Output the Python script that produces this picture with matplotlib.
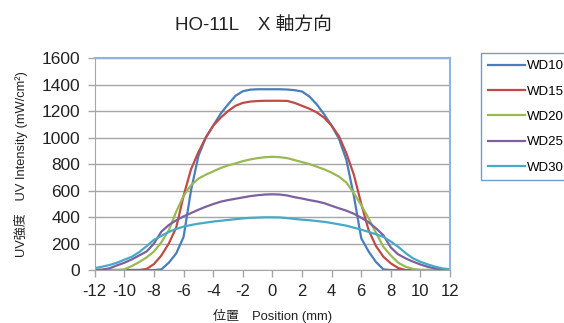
import numpy as np
import matplotlib
matplotlib.use("Agg")
import matplotlib.pyplot as plt

plt.rcParams['font.family'] = ['Liberation Sans', 'Noto Sans CJK JP', 'DejaVu Sans']
plt.rcParams['axes.unicode_minus'] = False

# 位置 (mm)
position = np.arange(-12, 12.5, 0.5)

wd10 = [0, 0, 0, 0, 0, 0, 0, 0, 0,
        5, 55, 125, 250, 600, 860, 1000, 1090, 1180, 1250, 1315, 1350, 1362, 1365, 1365,
        1365, 1365, 1363, 1358, 1348, 1310, 1250, 1175, 1090, 990, 830, 560, 240, 140, 60, 5,
        0, 0, 0, 0, 0, 0, 0, 0, 0]
wd15 = [0, 0, 0, 0, 0, 0, 0,
        8, 45, 110, 200, 320, 560, 760, 890, 1000, 1090, 1150, 1200, 1240, 1262, 1272, 1276,
        1278, 1278, 1278, 1277, 1262, 1240, 1218, 1190, 1150, 1090, 1010, 880, 720, 500, 300,
        180, 100, 50, 15,
        0, 0, 0, 0, 0, 0, 0]
wd20 = [0, 0, 0, 0,
        5, 30, 60, 95, 140, 210, 300, 440, 560, 640, 690, 720, 745, 770, 790, 805, 822, 835,
        845, 852, 855, 852, 845, 830, 815, 800, 780, 760, 735, 705, 660, 580, 490, 390, 280,
        175, 110, 55, 25, 8,
        0, 0, 0, 0, 0]
wd25 = [0, 3, 13, 35, 55, 80, 110, 140, 200, 290, 340, 375, 405, 430, 455, 478, 498, 516,
        528, 538, 548, 558, 565, 570, 572,
        570, 563, 550, 540, 528, 518, 505, 485, 466, 448, 425, 395, 360, 315, 262, 170, 118,
        88, 63, 42, 24, 12, 4, 0]
wd30 = [15, 25, 38, 55, 78, 100, 135, 180, 228, 258, 288, 310, 328, 340, 350, 358, 366, 372,
        378, 384, 390, 394, 396, 398, 398,
        397, 392, 386, 380, 376, 370, 364, 355, 345, 335, 320, 305, 288, 270, 250, 215, 175,
        128, 88, 62, 42, 25, 12, 5]

series = [('WD10', wd10, '#4A7EBB'),
          ('WD15', wd15, '#BE4B48'),
          ('WD20', wd20, '#98B954'),
          ('WD25', wd25, '#7D60A0'),
          ('WD30', wd30, '#46AAC5')]

fig = plt.figure(figsize=(5.64, 3.23), dpi=100)
ax = fig.add_axes([0.168, 0.164, 0.630, 0.656])

for name, vals, col in series:
    ax.plot(position, vals, color=col, lw=1.6, label=name)

ax.set_xlim(-12, 12)
ax.set_ylim(0, 1600)
ax.set_xticks(np.arange(-12, 13, 2))
ax.set_yticks(np.arange(0, 1601, 200))
ax.grid(axis='y', color='#a6a6a6', lw=1)
ax.set_axisbelow(True)

for s in ['left', 'bottom']:
    ax.spines[s].set_color('#a6a6a6')
for s in ['top', 'right']:
    ax.spines[s].set_color('#8EB4E3')
    ax.spines[s].set_linewidth(1.5)

ax.tick_params(colors='#a6a6a6', labelcolor='#222222', labelsize=12.5, length=5, width=1)
ax.tick_params(axis='y', pad=5.5)
ax.tick_params(axis='x', labelsize=12, pad=5)

ax.set_xlabel('位置　Position (mm)', fontsize=9.4, color='#222222', labelpad=7)
ax.set_ylabel('UV強度　UV Intensity (mW/cm²)', fontsize=9.3, color='#222222', labelpad=10)

fig.text(0.449, 0.922, 'HO-11L　X 軸方向', ha='center', va='center',
         fontsize=13.5, color='#222222')

leg = fig.legend(loc='upper left', bbox_to_anchor=(0.853, 0.835), fontsize=9.5,
                 frameon=True, fancybox=False, handlelength=2.8, handletextpad=0.2,
                 labelspacing=1.0, borderpad=0.5, borderaxespad=0)
leg.get_frame().set_edgecolor('#4F81BD')
leg.get_frame().set_linewidth(1)

fig.savefig('out.png', dpi=100)
